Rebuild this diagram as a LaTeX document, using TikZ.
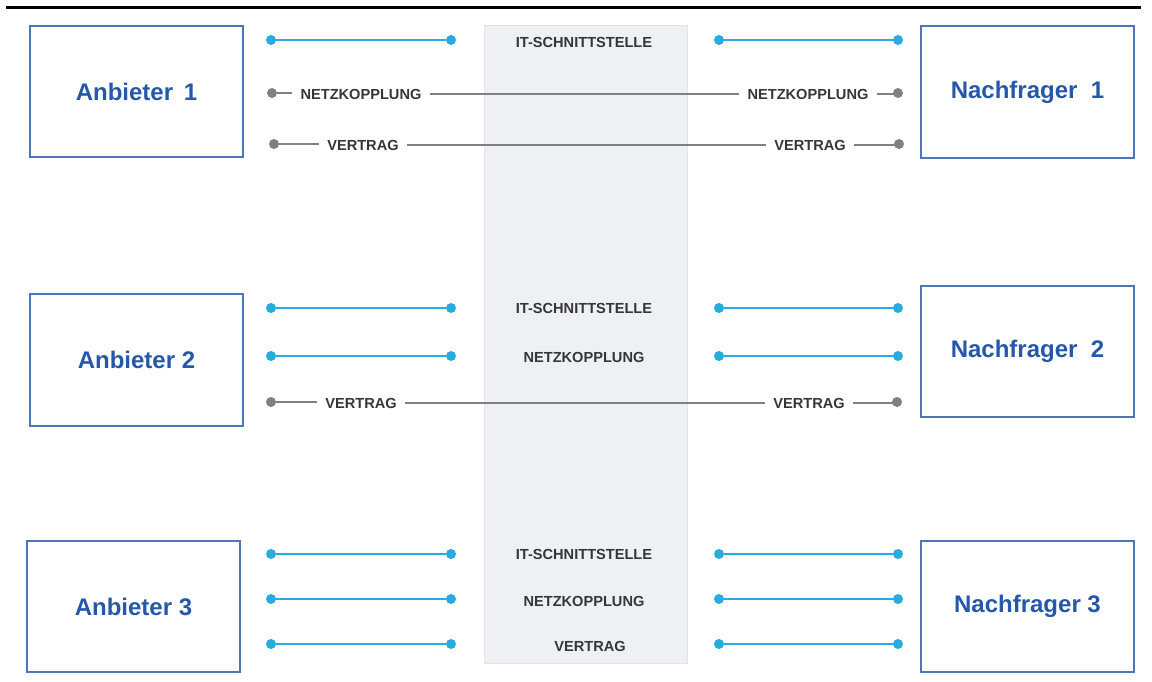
\documentclass[tikz,border=0pt]{standalone}
\usepackage{fontspec}
\setmainfont{Liberation Sans}
\definecolor{boxblue}{HTML}{4F74B8}
\definecolor{txtblue}{HTML}{2558AA}
\definecolor{lineblue}{HTML}{29ABE2}
\definecolor{linegray}{HTML}{808080}
\definecolor{labgray}{HTML}{363636}
\definecolor{panelfill}{HTML}{EFF0F3}
\definecolor{panelline}{HTML}{E2E3E6}
\begin{document}
\begin{tikzpicture}[x=1pt,y=-1pt,
  party/.style={draw=boxblue,line width=1.6pt,fill=white,inner sep=0pt,
    font=\fontsize{24}{28}\selectfont\bfseries,text=txtblue},
  bdot/.style={circle,fill=lineblue,inner sep=0pt,minimum size=10pt},
  gdot/.style={circle,fill=linegray,inner sep=0pt,minimum size=10pt},
  bline/.style={draw=lineblue,line width=2pt},
  gline/.style={draw=linegray,line width=1.6pt},
  lab/.style={font=\fontsize{14.6}{17}\selectfont\bfseries,text=labgray,inner xsep=8pt,inner ysep=0pt}
]
\useasboundingbox (0,0) rectangle (1152,682);
\draw[line width=3pt] (6,8) -- (1141,8);
% central panel
\node[draw=panelline,fill=panelfill,line width=0.6pt,minimum width=203pt,minimum height=638pt,inner sep=0pt] (panel) at (585.5,344) {};

% boxes
\node[party,minimum width=213pt,minimum height=131pt] (a1) at (136.5,91.5) {Anbieter\ \,1};
\node[party,minimum width=213pt,minimum height=132pt] (n1) at (1027.5,92) {Nachfrager\ \ 1};
\node[party,minimum width=213pt,minimum height=132pt] (a2) at (136.5,360) {Anbieter 2};
\node[party,minimum width=213pt,minimum height=131pt] (n2) at (1027.5,351.5) {Nachfrager\ \ 2};
\node[party,minimum width=213pt,minimum height=131pt] (a3) at (133.5,606.5) {Anbieter 3};
\node[party,minimum width=213pt,minimum height=131pt] (n3) at (1027.5,606.5) {Nachfrager 3};

% blue connections
\foreach \n/\y in {r1it/40, r2it/308, r2nk/356, r3it/554, r3nk/599, r3v/644}{
  \node[bdot] (\n ll) at (271,\y) {};
  \node[bdot] (\n lr) at (451,\y) {};
  \node[bdot] (\n rl) at (719,\y) {};
  \node[bdot] (\n rr) at (898,\y) {};
  \draw[bline] (\n ll) -- (\n lr);
  \draw[bline] (\n rl) -- (\n rr);
}
% panel labels
\node[lab] (t1it) at (584,42) {IT-SCHNITTSTELLE};
\node[lab] (t2it) at (584,308) {IT-SCHNITTSTELLE};
\node[lab] (t2nk) at (584,357) {NETZKOPPLUNG};
\node[lab] (t3it) at (584,554) {IT-SCHNITTSTELLE};
\node[lab] (t3nk) at (584,601) {NETZKOPPLUNG};
\node[lab] (t3v) at (590,646) {VERTRAG};

% gray connections
\node[gdot] (g1nl) at (272,93) {};
\node[lab] (l1nl) at (361,94) {NETZKOPPLUNG};
\node[lab] (l1nr) at (808,94) {NETZKOPPLUNG};
\node[gdot] (g1nr) at (898,93) {};
\draw[gline] (g1nl) -- (g1nl -| l1nl.west);
\draw[gline] (l1nl.east) -- (l1nr.west);
\draw[gline] (l1nr.east) -- (l1nr.east -| g1nr);

\node[gdot] (g1vl) at (274,144) {};
\node[lab] (l1vl) at (363,145) {VERTRAG};
\node[lab] (l1vr) at (810,145) {VERTRAG};
\node[gdot] (g1vr) at (899,144) {};
\draw[gline] (g1vl) -- (g1vl -| l1vl.west);
\draw[gline] (l1vl.east) -- (l1vr.west);
\draw[gline] (l1vr.east) -- (l1vr.east -| g1vr);

\node[gdot] (g2vl) at (271,402) {};
\node[lab] (l2vl) at (361,403) {VERTRAG};
\node[lab] (l2vr) at (809,403) {VERTRAG};
\node[gdot] (g2vr) at (897,402) {};
\draw[gline] (g2vl) -- (g2vl -| l2vl.west);
\draw[gline] (l2vl.east) -- (l2vr.west);
\draw[gline] (l2vr.east) -- (l2vr.east -| g2vr);
\end{tikzpicture}
\end{document}
